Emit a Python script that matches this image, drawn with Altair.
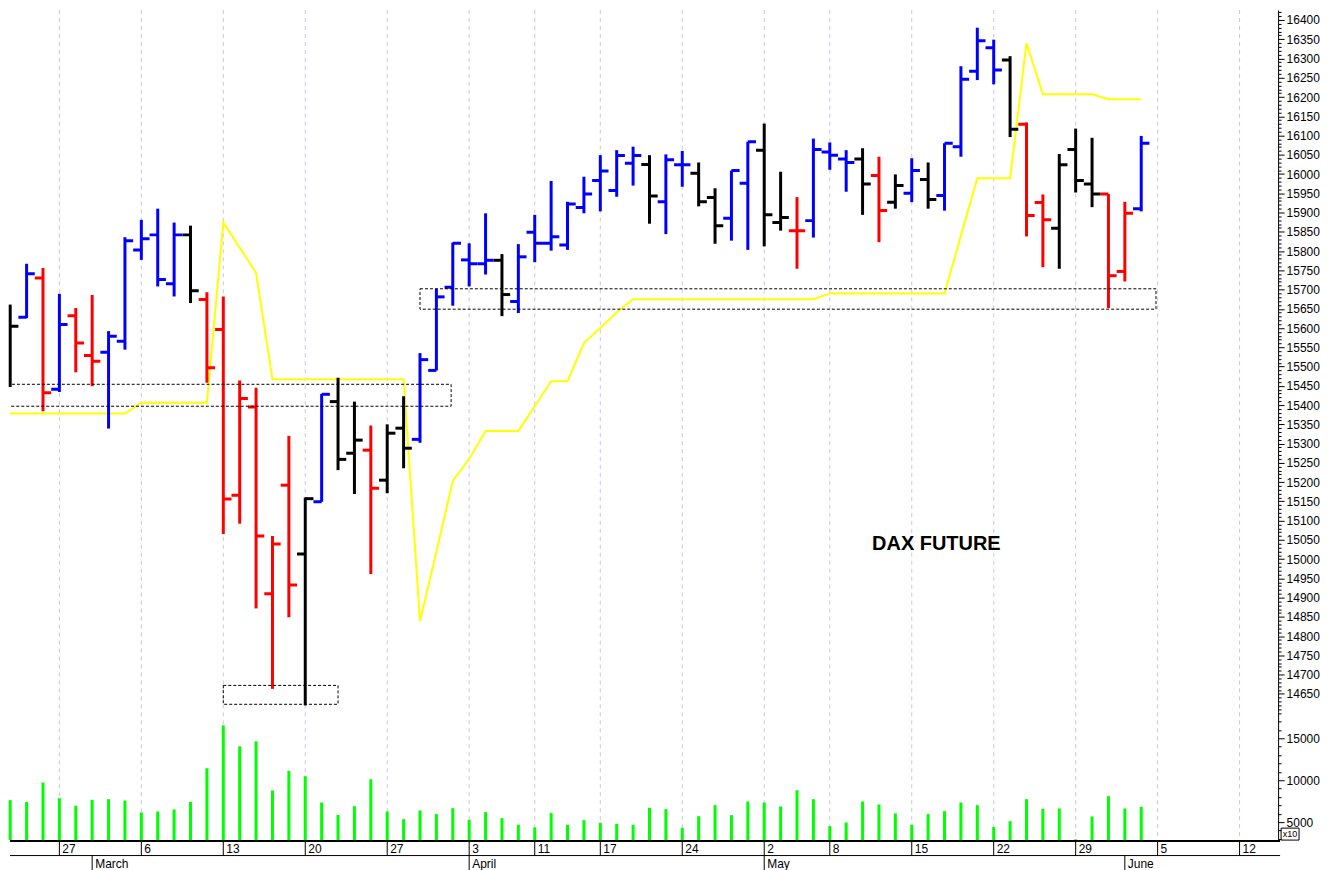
import altair as alt
import pandas as pd

# trading-day number (0 = Mon 27 Feb 2023), one per bar
DAY = list(range(-3, 67))

OPEN = [15592, 15628, 15730, 15441, 15632, 15529, 15537, 15566, 15803, 15842,
        15715, 15842, 15674, 15596, 15166, 15395, 14910, 15192, 15013, 15149,
        15409, 15275, 15283, 15205, 15340, 15311, 15490, 15706, 15777, 15767,
        15776, 15669, 15849, 15820, 15816, 15913, 15983, 15957, 16028, 16025,
        15928, 16024, 16002, 15939, 15885, 15976, 16062, 15874, 15853, 15879,
        16057, 16039, 16039, 15996, 15927, 15950, 15986, 15944, 16071, 16267,
        16328, 16296, 16129, 15926, 15859, 16064, 15974, 15948, 15747, 15910]
HIGH = [15661, 15767, 15756, 15689, 15652, 15686, 15592, 15836, 15881, 15910,
        15874, 15866, 15693, 15682, 15464, 15445, 15060, 15320, 15160, 15429,
        15471, 15409, 15347, 15350, 15423, 15535, 15702, 15822, 15820, 15898,
        15792, 15818, 15894, 15982, 15928, 15993, 16049, 16062, 16071, 16049,
        16051, 16060, 16030, 15963, 16009, 16084, 16131, 16006, 15940, 16092,
        16082, 16062, 16067, 16045, 15999, 16041, 16030, 16080, 16280, 16380,
        16349, 16306, 16134, 15947, 16052, 16118, 16094, 15948, 15928, 16099]
LOW = [15447, 15626, 15384, 15434, 15485, 15449, 15339, 15544, 15777, 15708,
       15682, 15665, 15458, 15065, 15092, 14872, 14663, 14849, 14620, 15149,
       15231, 15169, 14961, 15171, 15236, 15302, 15490, 15658, 15708, 15739,
       15631, 15639, 15771, 15801, 15803, 15898, 15903, 15941, 15970, 15871,
       15844, 15967, 15916, 15819, 15827, 15803, 15812, 15853, 15754, 15835,
       16011, 15954, 15894, 15823, 15910, 15927, 15910, 15905, 16045, 16244,
       16233, 16096, 15838, 15758, 15754, 15952, 15914, 15652, 15721, 15903]
CLOSE = [15605, 15741, 15432, 15609, 15561, 15514, 15579, 15827, 15832, 15726,
         15842, 15697, 15497, 15156, 15417, 15060, 15039, 14933, 15157, 15428,
         15259, 15309, 15184, 15327, 15288, 15518, 15681, 15820, 15767, 15776,
         15687, 15785, 15820, 15837, 15922, 15948, 16008, 16048, 16048, 15943,
         16037, 16024, 15928, 15866, 16009, 16084, 15894, 15887, 15853, 16064,
         16049, 16030, 15974, 15905, 15970, 16009, 15934, 16080, 16246, 16346,
         16270, 16116, 15892, 15881, 16024, 15983, 15948, 15736, 15898, 16080]
COLOR = ["k", "b", "r", "b", "r", "r", "b", "b", "b", "b",
         "b", "k", "r", "r", "r", "r", "r", "r", "k", "b",
         "k", "k", "r", "k", "k", "b", "b", "b", "b", "b",
         "k", "b", "b", "b", "b", "b", "b", "b", "b", "k",
         "b", "b", "k", "k", "b", "b", "k", "k", "r", "b",
         "b", "b", "k", "r", "k", "b", "k", "b", "b", "b",
         "b", "k", "r", "r", "k", "k", "k", "r", "r", "b"]
VOLUME = [7619, 7417, 9726, 7857, 6940, 7655, 7738, 7583, 6155, 6274,
          6512, 7417, 11429, 16548, 14048, 14643, 8774, 11107, 10476, 7345,
          5869, 6905, 10119, 6274, 5357, 6393, 5952, 6667, 5278, 6190,
          5476, 4683, 4369, 6071, 4683, 5238, 4921, 4802, 4683, 6706,
          6548, 4325, 5714, 7024, 5833, 7464, 7345, 6869, 8810, 7738,
          4524, 4960, 7464, 7107, 6036, 4683, 5952, 6310, 7345, 7024,
          4405, 5119, 7738, 6583, 6631, 2950, 5676, 8095, 6631, 6825]

# yellow line, trading days -4 .. 66
SIGNAL_DAY = list(range(-4, 67))
SIGNAL = [15378, 15378, 15378, 15378, 15378, 15378, 15378, 15378, 15378, 15406,
          15406, 15406, 15406, 15406, 15874, 15809, 15743, 15467, 15467, 15467,
          15467, 15467, 15467, 15467, 15467, 15467, 14839, 15019, 15203, 15260,
          15333, 15333, 15333, 15397, 15462, 15462, 15561, 15600, 15641, 15675,
          15675, 15675, 15675, 15675, 15675, 15675, 15675, 15675, 15675, 15675,
          15675, 15690, 15690, 15690, 15690, 15690, 15690, 15690, 15690, 15840,
          15989, 15989, 15989, 16340, 16207, 16207, 16207, 16207, 16194, 16194,
          16194]

# dashed boxes (trading-day span, price span)
BOX_X1 = [-3.5, 22.0, 10.0]
BOX_X2 = [23.9, 66.9, 17.0]
BOX_LO = [15397, 15649, 14623]
BOX_HI = [15454, 15702, 14672]

WEEK_POS = [0, 5, 10, 15, 20, 25, 29, 33, 38, 43, 47, 52, 57, 62, 67, 72]
WEEK_LABELS = ["27", "6", "13", "20", "27", "3", "11", "17", "24", "2", "8",
               "15", "22", "29", "5", "12"]
MONTH_POS = [2, 25, 43, 65]
MONTH_LABELS = ["March", "April", "May", "June"]

PRICE_TICKS = list(range(14610, 16430, 10))
VOL_TICKS = list(range(3000, 19000, 1000))

bars = pd.DataFrame({"i": DAY, "o": OPEN, "h": HIGH, "l": LOW, "c": CLOSE,
                     "col": COLOR, "v": VOLUME})
sig = pd.DataFrame({"i": SIGNAL_DAY, "s": SIGNAL})
boxes = pd.DataFrame({"x1": BOX_X1, "x2": BOX_X2, "lo": BOX_LO, "hi": BOX_HI})
weeks = pd.DataFrame({"i": WEEK_POS, "t": WEEK_LABELS})
months = pd.DataFrame({"i": MONTH_POS, "t": MONTH_LABELS})
one = pd.DataFrame({"k": [0]})
title_df = pd.DataFrame({"i": [53.5], "p": [15040], "t": ["DAX FUTURE"]})

W = 1271
HP = 704
HV = 128
HA = 30
FONT = "Liberation Sans"

xs = alt.Scale(domain=[-3.0128, 74.35], nice=False, zero=False)
ps = alt.Scale(domain=[14602, 16426], nice=False, zero=False)
vs = alt.Scale(domain=[2857, 18095], nice=False, zero=False)
cs = alt.Scale(domain=["b", "r", "k"], range=["#0000ff", "#ff0000", "#000000"])


def X(f):
    return alt.X(f, type="quantitative", scale=xs, axis=None)


def make_axis(values, step):
    test = "datum.value % " + str(step) + " === 0"
    return alt.Axis(orient="right", values=values, format="d",
                    labelExpr=test + " ? datum.label : ''",
                    tickSize={"condition": {"test": test, "value": 6}, "value": 3},
                    labelFontSize={"condition": {"test": test, "value": 12}, "value": 0},
                    labelOverlap=False, labelPadding=2, grid=False, title=None,
                    domainColor="black", tickColor="black", labelColor="black",
                    labelFont=FONT, labelFlush=False)


price_axis = make_axis(PRICE_TICKS, 50)
vol_axis = make_axis(VOL_TICKS, 5000)


def PY(f):
    return alt.Y(f, type="quantitative", scale=ps, axis=price_axis)


colenc = alt.Color("col:N", scale=cs, legend=None)

grid_p = alt.Chart(weeks).mark_rule(color="#c8c8dc", strokeDash=[4, 4], strokeWidth=1).encode(x=X("i"))
line = alt.Chart(sig).mark_line(color="#ffff00", strokeWidth=2, clip=True).encode(x=X("i"), y=PY("s"))
hl = alt.Chart(bars).mark_rule(strokeWidth=3).encode(x=X("i"), y=PY("l"), y2="h:Q", color=colenc)
otick = alt.Chart(bars).transform_calculate(a="datum.i - 0.5").mark_rule(
    strokeWidth=3, clip=True).encode(x=X("a"), x2="i:Q", y=PY("o"), color=colenc)
ctick = alt.Chart(bars).transform_calculate(a="datum.i + 0.5").mark_rule(
    strokeWidth=3, clip=True).encode(x=X("i"), x2="a:Q", y=PY("c"), color=colenc)
rects = alt.Chart(boxes).mark_rect(fillOpacity=0, stroke="black", strokeWidth=1,
                                   strokeDash=[3, 2], clip=True).encode(
    x=X("x1"), x2="x2:Q", y=PY("lo"), y2="hi:Q")
label = alt.Chart(title_df).mark_text(font=FONT, fontSize=20, fontWeight="bold",
                                      color="black", baseline="middle").encode(
    x=X("i"), y=PY("p"), text="t:N")

price = alt.layer(grid_p, line, hl, otick, ctick, rects, label).properties(width=W, height=HP)

grid_v = alt.Chart(weeks).mark_rule(color="#c8c8dc", strokeDash=[4, 4], strokeWidth=1).encode(x=X("i"))
vol = alt.Chart(bars).mark_rule(strokeWidth=3, color="#00ff00").encode(
    x=X("i"), y=alt.Y("v:Q", scale=vs, axis=vol_axis), y2=alt.value(HV))
x10_box = alt.Chart(one).mark_rect(fillOpacity=0, stroke="black", strokeWidth=1).encode(
    x=alt.value(W + 3), x2=alt.value(W + 21), y=alt.value(HV - 12), y2=alt.value(HV))
x10_txt = alt.Chart(one).mark_text(text="x10", font=FONT, fontSize=9, color="black",
                                   align="center", baseline="middle").encode(
    x=alt.value(W + 12), y=alt.value(HV - 6))
volume = alt.layer(grid_v, vol, x10_box, x10_txt).properties(width=W, height=HV)

top_line = alt.Chart(one).mark_rule(color="black", strokeWidth=2).encode(
    x=alt.value(0), x2=alt.value(W + 2), y=alt.value(1))
mid_line = alt.Chart(one).mark_rule(color="black", strokeWidth=1).encode(
    x=alt.value(0), x2=alt.value(W + 2), y=alt.value(15.5))
wsep = alt.Chart(weeks).mark_rule(color="black", strokeWidth=1).encode(
    x=X("i"), y=alt.value(0), y2=alt.value(15))
wtxt = alt.Chart(weeks).mark_text(align="left", baseline="middle", dx=3, font=FONT,
                                  fontSize=12, color="black").encode(
    x=X("i"), y=alt.value(8.5), text="t:N")
msep = alt.Chart(months).mark_rule(color="black", strokeWidth=1).encode(
    x=X("i"), y=alt.value(15), y2=alt.value(HA))
mtxt = alt.Chart(months).mark_text(align="left", baseline="middle", dx=3, font=FONT,
                                   fontSize=12, color="black").encode(
    x=X("i"), y=alt.value(23.5), text="t:N")
axis_panel = alt.layer(top_line, mid_line, wsep, wtxt, msep, mtxt).properties(width=W, height=HA)

chart = alt.vconcat(price, volume, axis_panel, spacing=0, bounds="flush").properties(
    padding={"left": 0, "top": 0, "right": 0, "bottom": 0},
    background="white",
).configure_view(strokeWidth=0)

chart.save("out.html", embed_options={"renderer": "svg", "actions": False})
